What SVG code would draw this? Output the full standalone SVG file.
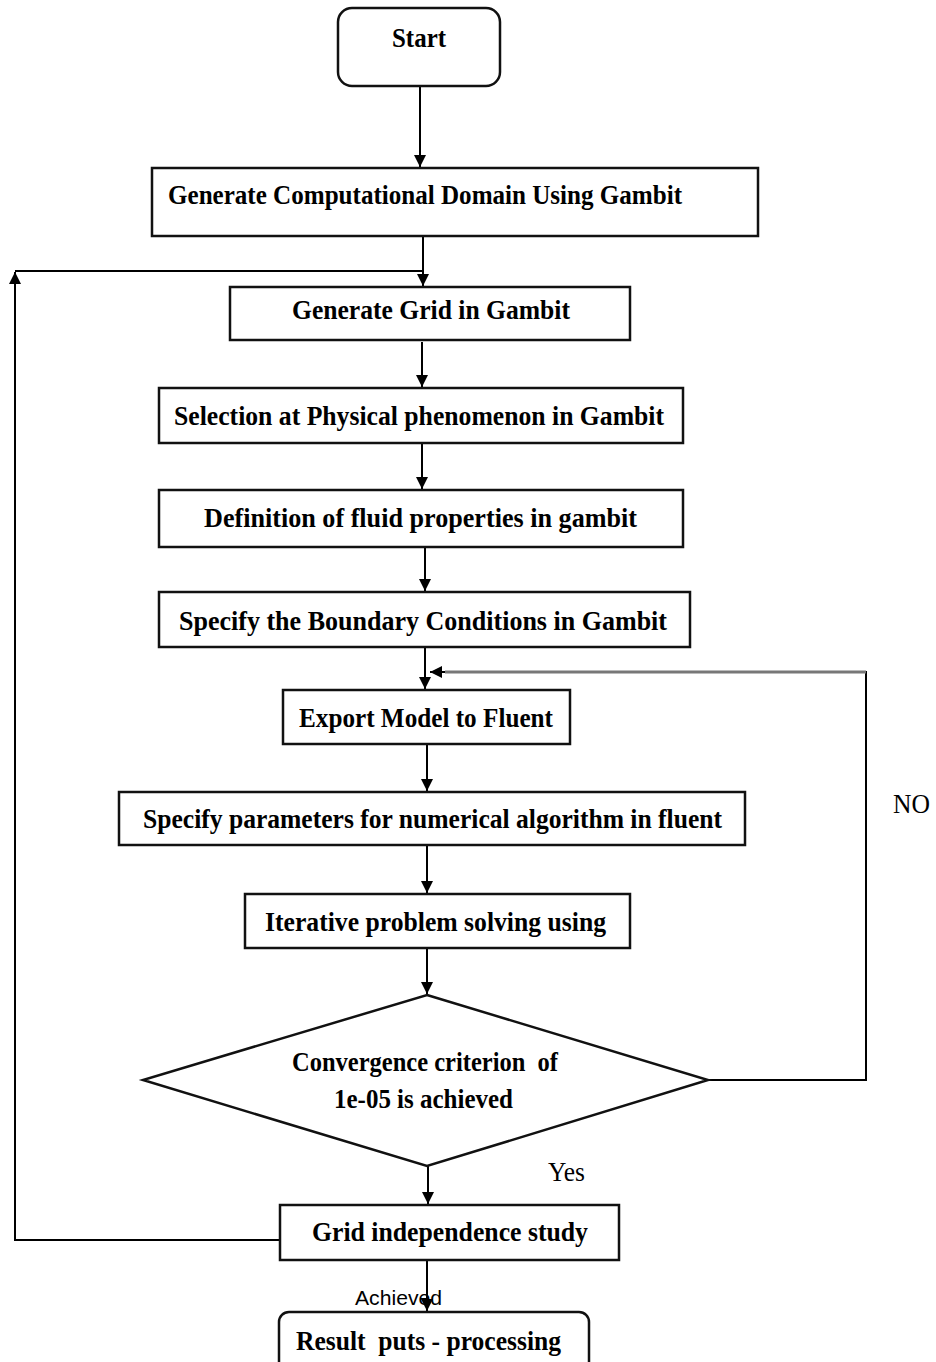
<svg xmlns="http://www.w3.org/2000/svg" width="936" height="1362" viewBox="0 0 936 1362" xml:space="preserve">
<defs>
<marker id="ah" viewBox="0 0 10 10" refX="10" refY="5" markerWidth="7" markerHeight="6" orient="auto" markerUnits="strokeWidth">
<path d="M0,0 L10,5 L0,10 z" fill="#000"/>
</marker>
</defs>
<style>
.box{fill:#fff;stroke:#111;stroke-width:2.5}
.t{font-family:"Liberation Serif","Times New Roman",serif;font-weight:bold;font-size:27px;fill:#000;white-space:pre}
.ln{fill:none;stroke:#000;stroke-width:2}
.s{font-family:"Liberation Sans",Arial,sans-serif;font-size:20px;fill:#000}
</style>
<rect width="936" height="1362" fill="#fff"/>
<g id="connectors">
<line class="ln" x1="420" y1="86" x2="420" y2="167" marker-end="url(#ah)"/>
<line class="ln" x1="423" y1="236" x2="423" y2="286" marker-end="url(#ah)"/>
<polyline class="ln" points="280,1240 15,1240 15,272" marker-end="url(#ah)"/>
<line class="ln" x1="15" y1="271" x2="423" y2="271"/>
<line class="ln" x1="422" y1="342" x2="422" y2="387" marker-end="url(#ah)"/>
<line class="ln" x1="422" y1="443" x2="422" y2="489" marker-end="url(#ah)"/>
<line class="ln" x1="425" y1="547" x2="425" y2="591" marker-end="url(#ah)"/>
<line class="ln" x1="425" y1="647" x2="425" y2="689" marker-end="url(#ah)"/>
<polyline class="ln" points="708,1080 866,1080 866,672 430,672" marker-end="url(#ah)"/>
<line x1="445" y1="672" x2="866" y2="672" stroke="#777" stroke-width="3"/>
<line class="ln" x1="427" y1="744" x2="427" y2="791" marker-end="url(#ah)"/>
<line class="ln" x1="427" y1="845" x2="427" y2="893" marker-end="url(#ah)"/>
<line class="ln" x1="427" y1="948" x2="427" y2="994" marker-end="url(#ah)"/>
<line class="ln" x1="428" y1="1166" x2="428" y2="1204" marker-end="url(#ah)"/>
<line class="ln" x1="427" y1="1260" x2="427" y2="1311" marker-end="url(#ah)"/>
<text class="t" x="893" y="813" textLength="37" lengthAdjust="spacingAndGlyphs" style="font-weight:normal">NO</text>
<text class="t" x="548" y="1181" textLength="37" lengthAdjust="spacingAndGlyphs" style="font-weight:normal">Yes</text>
<text class="s" x="355" y="1305" textLength="87" lengthAdjust="spacingAndGlyphs">Achieved</text>
</g>
<g id="start">
<rect class="box" x="338" y="8" width="162" height="78" rx="14"/>
<text class="t" x="392" y="47" textLength="54" lengthAdjust="spacingAndGlyphs">Start</text>
</g>
<g id="domain">
<rect class="box" x="152" y="168" width="606" height="68"/>
<text class="t" x="168" y="204" textLength="514" lengthAdjust="spacingAndGlyphs">Generate Computational Domain Using Gambit</text>
</g>
<g id="grid">
<rect class="box" x="230" y="287" width="400" height="53"/>
<text class="t" x="292" y="319" textLength="278" lengthAdjust="spacingAndGlyphs">Generate Grid in Gambit</text>
</g>
<g id="selection">
<rect class="box" x="159" y="388" width="524" height="55"/>
<text class="t" x="174" y="425" textLength="490" lengthAdjust="spacingAndGlyphs">Selection at Physical phenomenon in Gambit</text>
</g>
<g id="fluid">
<rect class="box" x="159" y="490" width="524" height="57"/>
<text class="t" x="204" y="527" textLength="433" lengthAdjust="spacingAndGlyphs">Definition of fluid properties in gambit</text>
</g>
<g id="boundary">
<rect class="box" x="159" y="592" width="531" height="55"/>
<text class="t" x="179" y="630" textLength="488" lengthAdjust="spacingAndGlyphs">Specify the Boundary Conditions in Gambit</text>
</g>
<g id="export">
<rect class="box" x="283" y="690" width="287" height="54"/>
<text class="t" x="299" y="727" textLength="254" lengthAdjust="spacingAndGlyphs">Export Model to Fluent</text>
</g>
<g id="params">
<rect class="box" x="119" y="792" width="626" height="53"/>
<text class="t" x="143" y="828" textLength="579" lengthAdjust="spacingAndGlyphs">Specify parameters for numerical algorithm in fluent</text>
</g>
<g id="iterative">
<rect class="box" x="245" y="894" width="385" height="54"/>
<text class="t" x="265" y="931" textLength="341" lengthAdjust="spacingAndGlyphs">Iterative problem solving using</text>
</g>
<g id="convergence">
<polygon class="box" points="427,995 708,1080 427,1166 143,1080"/>
<text class="t" x="292" y="1071" textLength="266" lengthAdjust="spacingAndGlyphs">Convergence criterion  of</text>
<text class="t" x="334" y="1108" textLength="179" lengthAdjust="spacingAndGlyphs">1e-05 is achieved</text>
</g>
<g id="gridstudy">
<rect class="box" x="280" y="1205" width="339" height="55"/>
<text class="t" x="312" y="1241" textLength="276" lengthAdjust="spacingAndGlyphs">Grid independence study</text>
</g>
<g id="result">
<rect class="box" x="279" y="1312" width="310" height="62" rx="10"/>
<text class="t" x="296" y="1350" textLength="265" lengthAdjust="spacingAndGlyphs">Result  puts - processing</text>
</g>
</svg>
